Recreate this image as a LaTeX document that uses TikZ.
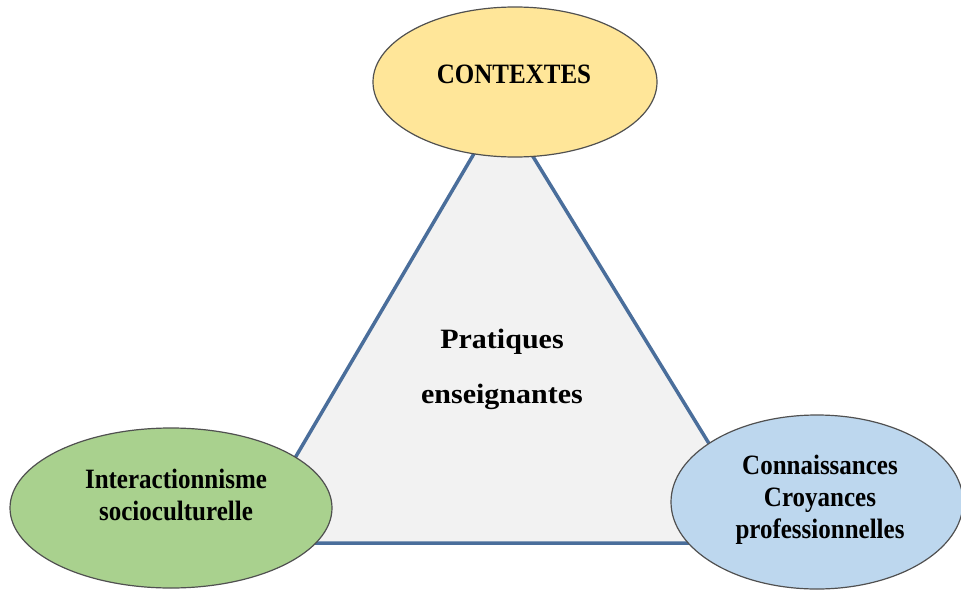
\documentclass[tikz,border=0pt]{standalone}
\usepackage{fontspec}
\setmainfont{Liberation Serif}
\usetikzlibrary{shapes.geometric}
\definecolor{trifill}{HTML}{F2F2F2}
\definecolor{triline}{HTML}{4A6E9B}
\definecolor{ctxfill}{HTML}{FFE699}
\definecolor{intfill}{HTML}{A9D18E}
\definecolor{conFill}{HTML}{BDD7EE}
\definecolor{ellline}{HTML}{505050}
\newcommand{\tallw}[1]{\scalebox{1}[1.12]{#1}}
\newcommand{\widew}[1]{\scalebox{1.2}[1.12]{#1}}
\tikzset{
  oval/.style={ellipse, draw=ellline, line width=1.2pt, inner sep=0pt},
  lbl/.style={align=center, font=\fontsize{25}{32}\selectfont\bfseries, inner sep=0pt}
}
\begin{document}
\begin{tikzpicture}[x=1pt,y=-1pt]
\useasboundingbox (0,0) rectangle (961,589);
\fill[white] (0,0) rectangle (961,589);
% triangle corners
\coordinate (apex) at (502,106);
\coordinate (bl) at (245,543);
\coordinate (br) at (770,543);
\draw[triline, fill=trifill, line width=3.5pt, line join=miter] (apex) -- (bl) -- (br) -- cycle;
% ellipses
\node[oval, fill=ctxfill, minimum width=284, minimum height=150] (ctx) at (515,82) {};
\node[oval, fill=intfill, minimum width=322, minimum height=160] (inter) at (171,508) {};
\node[oval, fill=conFill, minimum width=292, minimum height=174] (conn) at (817,502) {};
% labels (anchor base = baseline of the last line)
\node[lbl, anchor=base] (tctx) at (514,83) {\tallw{CONTEXTES}};
\node[lbl, anchor=base, font=\fontsize{25}{55}\selectfont\bfseries] (tprat) at (502,403) {\widew{Pratiques}\\\widew{enseignantes}};
\node[lbl, anchor=base] (tint) at (176,520) {\tallw{Interactionnisme}\\\tallw{socioculturelle}};
\node[lbl, anchor=base] (tconn) at (820,538) {\tallw{Connaissances}\\\tallw{Croyances}\\\tallw{professionnelles}};
\end{tikzpicture}
\end{document}
